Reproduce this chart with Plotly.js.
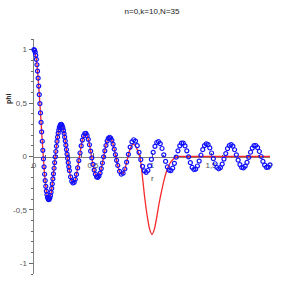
<!DOCTYPE html>
<html>
<head>
<meta charset="utf-8">
<script src="https://cdn.plot.ly/plotly-3.0.1.min.js"></script>
<style>html,body{margin:0;padding:0;background:#fff;}#chart{width:305px;height:305px;}</style>
</head>
<body>
<div id="chart"></div>
<script>
// Blue sample points (r, phi)
var blueR = [
0,0.005,0.01,0.015,0.02,0.025,0.03,0.035,0.04,0.045,0.05,0.055,0.06,0.065,0.07,0.075,0.08,0.085,0.09,0.095,
0.10,0.105,0.11,0.115,0.12,0.125,0.13,0.135,0.14,0.145,0.15,0.155,0.16,0.165,0.17,0.175,0.18,0.185,0.19,0.195,
0.20,0.205,0.21,0.215,0.22,0.225,0.23,0.235,0.24,0.245,0.25,0.255,0.26,0.265,0.27,0.275,0.28,0.285,0.29,0.295,0.30,
0.31,0.32,0.33,0.34,0.35,0.36,0.37,0.38,0.39,0.40,0.41,0.42,0.43,0.44,0.45,0.46,0.47,0.48,0.49,0.50,
0.51,0.52,0.53,0.54,0.55,0.56,0.57,0.58,0.59,0.60,0.61,0.62,0.63,0.64,0.65,0.66,0.67,0.68,0.69,0.70,
0.71,0.725,0.74,0.755,0.77,0.785,0.80,0.815,0.83,0.845,0.86,0.875,0.89,0.905,0.92,0.935,0.95,0.965,0.98,0.995,
1.01,1.025,1.04,1.055,1.07,1.085,1.10,1.115,1.13,1.145,1.16,1.175,1.19,1.205,1.22,1.235,1.25,1.265,1.28,1.295,
1.31,1.325,1.34,1.355,1.37,1.385,1.40,1.415,1.43,1.445,1.46,1.475,1.49,1.505,1.52,1.535,1.55,1.565,1.58,1.595,
1.61,1.625,1.64,1.655,1.67,1.685,1.70,1.715,1.73,1.745,1.76,1.775,1.79,1.805,1.82,1.835,1.85,1.865,1.88,1.895,
1.91,1.925,1.94,1.955,1.97,1.985,2.00];
var bluePhi = [
1.000,0.994,0.977,0.948,0.909,0.859,0.800,0.733,0.659,0.579,0.495,0.408,0.319,0.230,0.143,0.058,-0.023,-0.097,-0.166,-0.226,
-0.280,-0.324,-0.358,-0.383,-0.399,-0.403,-0.399,-0.386,-0.365,-0.335,-0.299,-0.257,-0.210,-0.162,-0.110,-0.057,-0.004,0.047,0.096,0.141,
0.181,0.218,0.247,0.271,0.287,0.299,0.300,0.296,0.283,0.267,0.243,0.215,0.181,0.145,0.106,0.065,0.023,-0.018,-0.058,-0.097,-0.132,
-0.191,-0.231,-0.248,-0.243,-0.214,-0.168,-0.107,-0.038,0.033,0.099,0.154,0.193,0.215,0.216,0.195,0.161,0.110,0.050,-0.013,-0.074,
-0.127,-0.166,-0.190,-0.196,-0.184,-0.155,-0.113,-0.061,-0.003,0.053,0.103,0.144,0.170,0.180,0.173,0.151,0.115,0.069,0.017,-0.036,
-0.084,-0.140,-0.166,-0.157,-0.117,-0.053,0.020,0.088,0.137,0.157,0.144,0.101,0.039,-0.030,-0.092,-0.134,-0.148,-0.131,-0.088,-0.027,
0.038,0.095,0.131,0.140,0.120,0.075,0.016,-0.046,-0.098,-0.129,-0.132,-0.109,-0.064,-0.006,0.053,0.100,0.125,0.125,0.099,0.053,
-0.003,-0.058,-0.101,-0.122,-0.118,-0.089,-0.043,0.012,0.064,0.102,0.119,0.111,0.080,0.033,-0.020,-0.068,-0.103,-0.115,-0.104,-0.071,
-0.024,0.027,0.073,0.103,0.112,0.097,0.063,0.016,-0.034,-0.076,-0.103,-0.107,-0.090,-0.055,-0.008,0.040,0.079,0.102,0.103,0.083,
0.047,0.000,-0.046,-0.081,-0.101,-0.099,-0.077];

// Red curve (r, phi)
var redR = [0,0.02,0.04,0.06,0.08,0.10,0.12,0.14,0.16,0.18,0.20,0.22,0.24,0.26,0.28,0.30,0.32,0.34,0.36,0.38,
0.40,0.42,0.44,0.46,0.48,0.50,0.52,0.54,0.56,0.58,0.60,0.62,0.64,0.66,0.68,0.70,0.72,0.74,0.76,0.78,
0.80,0.82,0.84,0.86,0.88,0.90,0.92,0.94,0.96,0.98,1.00,1.02,1.04,1.06,1.08,1.10,1.12,1.14,1.16,1.18,
1.20,1.22,1.26,1.30,1.40,1.50,1.60,1.70,1.80,1.90,2.00];
var redPhi = [1.000,0.909,0.659,0.319,-0.023,-0.280,-0.399,-0.365,-0.210,-0.004,0.181,0.287,0.283,0.181,0.023,-0.132,-0.231,-0.243,-0.168,-0.038,
0.099,0.193,0.216,0.161,0.050,-0.074,-0.166,-0.196,-0.155,-0.061,0.053,0.144,0.180,0.151,0.069,-0.036,-0.124,-0.166,-0.147,-0.076,
0.015,0.085,0.115,0.100,0.050,-0.020,-0.200,-0.400,-0.560,-0.680,-0.730,-0.680,-0.570,-0.440,-0.330,-0.230,-0.150,-0.090,-0.050,-0.025,
-0.010,0,0,0,0,0,0,0,0,0,0];

var xTickVals = [0, 0.5, 1, 1.5, 2];
var xTickText = ['0', '0,5', '1', '1,5', '2'];
var yTickVals = [-1, -0.5, 0, 0.5, 1];
var yTickText = ['-1', '-0,5', '0', '0,5', '1'];

var traces = [
  {x: redR, y: redPhi, type: 'scatter', mode: 'lines',
   line: {color: '#f52a2a', width: 1.3, shape: 'spline', smoothing: 0.8},
   cliponaxis: false, hoverinfo: 'skip'},
  {x: blueR, y: bluePhi, type: 'scatter', mode: 'markers',
   marker: {symbol: 'circle-open', size: 4, color: '#1010ff', line: {width: 1.2, color: '#1010ff'}},
   cliponaxis: false, hoverinfo: 'skip'}
];

var layout = {
  width: 305, height: 305,
  margin: {l: 34, r: 35, t: 39, b: 31},
  paper_bgcolor: '#ffffff', plot_bgcolor: '#ffffff',
  showlegend: false,
  font: {family: 'Liberation Sans, Arial, sans-serif', size: 8, color: '#444'},
  title: {text: 'n=0,k=10,N=35', font: {family: 'Liberation Sans, Arial, sans-serif', size: 8, color: '#222'},
          x: 0.5, xanchor: 'center', y: 0.964, yanchor: 'middle', xref: 'paper', yref: 'container'},
  xaxis: {
    range: [0, 2], anchor: 'free', position: 0.5,
    showgrid: false, zeroline: false, showline: true, linecolor: '#808080', linewidth: 1.5,
    layer: 'below traces',
    tickmode: 'array', tickvals: xTickVals, ticktext: xTickText,
    ticks: 'inside', ticklen: 4, tickwidth: 1, tickcolor: '#666',
    tickfont: {size: 8, color: '#555'},
    minor: {tickmode: 'linear', tick0: 0, dtick: 0.1, ticks: 'inside', ticklen: 2, tickcolor: '#666', showgrid: false}
  },
  yaxis: {
    range: [-1.1, 1.1],
    showgrid: false, zeroline: false, showline: true, linecolor: '#808080', linewidth: 1.5,
    layer: 'below traces',
    tickmode: 'array', tickvals: yTickVals, ticktext: yTickText,
    ticks: 'outside', ticklen: 4, tickwidth: 1, tickcolor: '#666',
    tickfont: {size: 8, color: '#555'},
    minor: {tickmode: 'linear', tick0: 0, dtick: 0.1, ticks: 'outside', ticklen: 2, tickcolor: '#666', showgrid: false}
  },
  annotations: [
    {text: '<b>phi</b>', xref: 'paper', yref: 'paper', x: -0.106, y: 0.749, textangle: -90,
     showarrow: false, font: {size: 7, color: '#222'}, xanchor: 'center', yanchor: 'middle'},
    {text: 'r', xref: 'paper', yref: 'paper', x: 0.5, y: 0.4085,
     showarrow: false, font: {size: 8, color: '#444'}, xanchor: 'center', yanchor: 'middle'}
  ]
};

Plotly.newPlot('chart', traces, layout, {displayModeBar: false, staticPlot: true});
</script>
</body>
</html>
